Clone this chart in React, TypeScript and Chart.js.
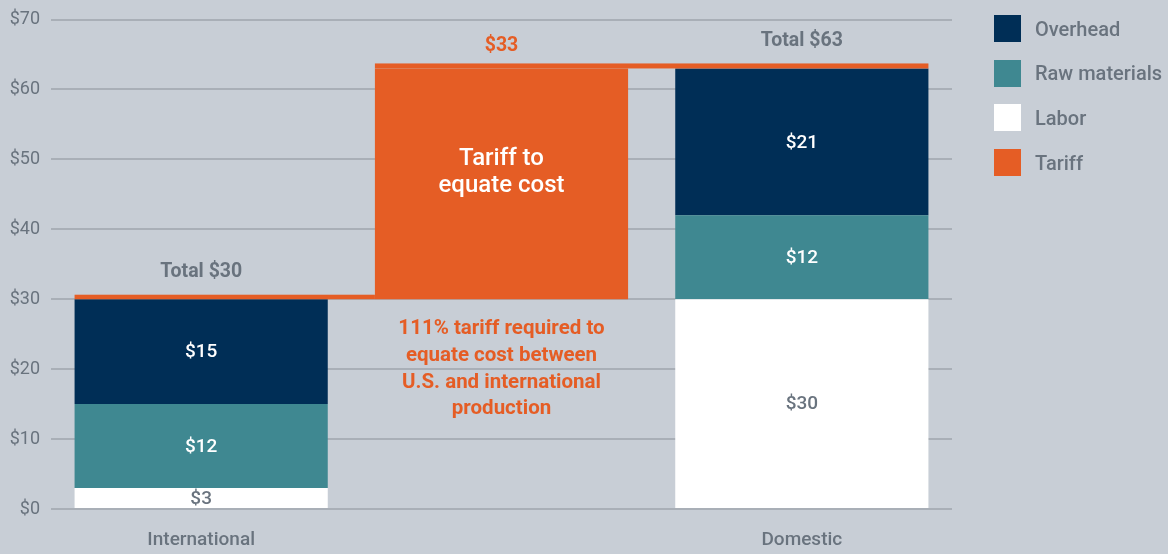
import React, { useEffect, useRef } from 'react';
import { Chart, registerables } from 'chart.js';

Chart.register(...registerables);

// ---------- data ----------
const categories = ['International', '', 'Domestic'];
const laborValues = [3, null, 30];
const rawMaterialValues = [12, null, 12];
const overheadValues = [15, null, 21];
const tariffRange = [null, [30, 63], null];
const totalValues = [30, null, 63];
const totalLabels = ['Total $30', '', 'Total $63'];
const tariffLabel = '$33';
const tariffBarText = ['Tariff to', 'equate cost'];
const tariffNote = ['111% tariff required to', 'equate cost between', 'U.S. and international', 'production'];
const legendLabels = ['Overhead', 'Raw materials', 'Labor', 'Tariff'];
const yMin = 0;
const yMax = 70;
const yStep = 10;

// ---------- style ----------
const BG = '#c8ced6';
const GRID = '#a9afb7';
const TEXT = '#69737e';
const NAVY = '#002e56';
const TEAL = '#3f8891';
const WHITE = '#ffffff';
const ORANGE = '#e55d25';
const FONT = 'Roboto';
const legendColors = [NAVY, TEAL, WHITE, ORANGE];

function drawText(ctx: CanvasRenderingContext2D, text: string, x: number, y: number, size: number, weight: number, color: string) {
  ctx.save();
  ctx.font = `${weight} ${size}px ${FONT}`;
  ctx.fillStyle = color;
  ctx.textAlign = 'center';
  ctx.textBaseline = 'middle';
  ctx.fillText(text, x, y);
  ctx.restore();
}

const annotationPlugin = {
  id: 'annotations',
  afterDatasetsDraw(chart: any) {
    const ctx: CanvasRenderingContext2D = chart.ctx;
    const yScale = chart.scales.y;
    const laborMeta = chart.getDatasetMeta(0);
    const rawMeta = chart.getDatasetMeta(1);
    const overheadMeta = chart.getDatasetMeta(2);
    const tariffMeta = chart.getDatasetMeta(3);
    const tariffBar = tariffMeta.data[1];
    const tLeft = tariffBar.x - tariffBar.width / 2;

    // connectors (orange caps)
    ctx.save();
    ctx.fillStyle = ORANGE;
    const intlBar = overheadMeta.data[0];
    const yIntl = yScale.getPixelForValue(totalValues[0]);
    ctx.fillRect(intlBar.x - intlBar.width / 2, yIntl - 4.5, tLeft - (intlBar.x - intlBar.width / 2), 4.5);
    const domBar = overheadMeta.data[2];
    const yDom = yScale.getPixelForValue(totalValues[2]);
    ctx.fillRect(tLeft, yDom - 5, domBar.x + domBar.width / 2 - tLeft, 5);
    ctx.restore();

    // segment labels
    const segs: [any, (number | null)[], string][] = [
      [laborMeta, laborValues, TEXT],
      [rawMeta, rawMaterialValues, WHITE],
      [overheadMeta, overheadValues, WHITE],
    ];
    segs.forEach(([meta, vals, color]) => {
      vals.forEach((v, i) => {
        if (v == null) return;
        const el = meta.data[i];
        drawText(ctx, `$${v}`, el.x, (el.y + el.base) / 2 + 1, 19, 500, color);
      });
    });

    // totals
    totalValues.forEach((v, i) => {
      if (v == null) return;
      const el = overheadMeta.data[i];
      drawText(ctx, totalLabels[i], el.x, yScale.getPixelForValue(v) - 27, 19.5, 700, TEXT);
    });

    // tariff value above bar
    drawText(ctx, tariffLabel, tariffBar.x, tariffBar.y - 22, 19.5, 700, ORANGE);

    // text in tariff bar
    const mid = (tariffBar.y + tariffBar.base) / 2 - 11;
    tariffBarText.forEach((t, i) => {
      drawText(ctx, t, tariffBar.x, mid + (i - (tariffBarText.length - 1) / 2) * 27, 24, 500, WHITE);
    });

    // note below tariff bar
    tariffNote.forEach((t, i) => {
      drawText(ctx, t, tariffBar.x, tariffBar.base + 30 + i * 26.7, 20.5, 700, ORANGE);
    });
  },
};

export default function App() {
  const canvasRef = useRef<HTMLCanvasElement | null>(null);

  useEffect(() => {
    if (!canvasRef.current) return;
    const chart = new Chart(canvasRef.current, {
      type: 'bar',
      data: {
        labels: categories,
        datasets: [
          { label: 'Labor', data: laborValues as any, backgroundColor: WHITE },
          { label: 'Raw materials', data: rawMaterialValues as any, backgroundColor: TEAL },
          { label: 'Overhead', data: overheadValues as any, backgroundColor: NAVY },
          { label: 'Tariff', data: tariffRange as any, backgroundColor: ORANGE },
        ],
      },
      options: {
        responsive: false,
        animation: false,
        events: [],
        datasets: { bar: { categoryPercentage: 1, barPercentage: 0.843, borderWidth: 0 } },
        layout: { padding: { top: 19.5, right: 216, left: 0, bottom: 0 } },
        plugins: { legend: { display: false }, tooltip: { enabled: false } },
        scales: {
          x: {
            stacked: true,
            grid: { display: false },
            border: { display: false },
            ticks: { color: TEXT, font: { family: FONT, size: 19, weight: 500 }, padding: 12 },
            afterFit(scale: any) { scale.height = 45; },
          },
          y: {
            stacked: true,
            min: yMin,
            max: yMax,
            grid: { color: GRID, lineWidth: 2, drawTicks: false },
            border: { display: false },
            ticks: {
              stepSize: yStep,
              color: TEXT,
              padding: 11,
              font: { family: FONT, size: 18, weight: 400, lineHeight: 0.8 },
              callback: (v: any) => `$${v}`,
            },
            afterFit(scale: any) { scale.width = 51; },
          },
        },
      },
      plugins: [annotationPlugin],
    });
    return () => chart.destroy();
  }, []);

  return (
    <div style={{ position: 'absolute', left: 0, top: 0, width: 1168, height: 554, background: BG, overflow: 'hidden' }}>
      <canvas ref={canvasRef} width={1168} height={554} style={{ display: 'block', width: 1168, height: 554 }} />
      {legendLabels.map((label, i) => (
        <div
          key={label}
          style={{ position: 'absolute', left: 994, top: 15 + i * 44.67, height: 27, display: 'flex', alignItems: 'center' }}
        >
          <div style={{ width: 27, height: 27, background: legendColors[i] }} />
          <span style={{ marginLeft: 14, fontFamily: FONT, fontSize: 20, fontWeight: 500, color: TEXT, whiteSpace: 'nowrap' }}>
            {label}
          </span>
        </div>
      ))}
    </div>
  );
}
